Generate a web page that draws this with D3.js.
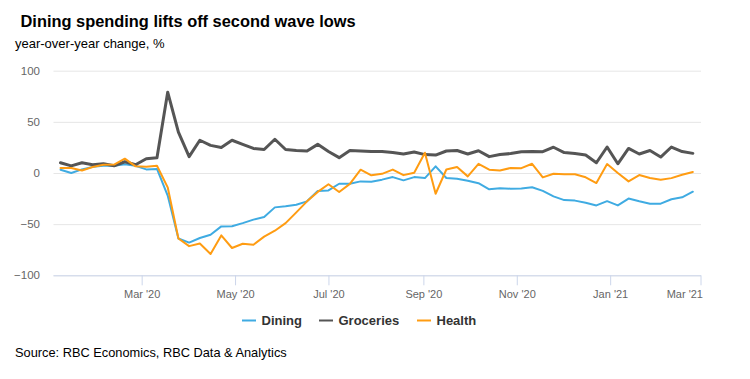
<!DOCTYPE html>
<html>
<head>
<meta charset="utf-8">
<script src="https://cdn.jsdelivr.net/npm/d3@7"></script>
<style>
  html, body { margin: 0; padding: 0; background: #fff; }
  svg { display: block; font-family: "Liberation Sans", Arial, sans-serif; }
</style>
</head>
<body>
<svg id="chart" width="750" height="379"></svg>
<script>
// ---- data ----
const dates = [
  "2020-01-08","2020-01-15","2020-01-22","2020-01-29","2020-02-05","2020-02-12","2020-02-19","2020-02-26",
  "2020-03-04","2020-03-11","2020-03-18","2020-03-25","2020-04-01","2020-04-08","2020-04-15","2020-04-22",
  "2020-04-29","2020-05-06","2020-05-13","2020-05-20","2020-05-27","2020-06-03","2020-06-10","2020-06-17",
  "2020-06-24","2020-07-01","2020-07-08","2020-07-15","2020-07-22","2020-07-29","2020-08-05","2020-08-12",
  "2020-08-19","2020-08-26","2020-09-02","2020-09-09","2020-09-16","2020-09-23","2020-09-30","2020-10-07",
  "2020-10-14","2020-10-21","2020-10-28","2020-11-04","2020-11-11","2020-11-18","2020-11-25","2020-12-02",
  "2020-12-09","2020-12-16","2020-12-23","2020-12-30","2021-01-06","2021-01-13","2021-01-20","2021-01-27",
  "2021-02-03","2021-02-10","2021-02-17","2021-02-24"
];
const dining = [
  3.2, 0, 3.5, 6, 7, 7, 8.5, 7, 3.5, 4,
  -22, -64, -68, -63.5, -60.3, -52.2, -52, -49, -45.6, -43,
  -33.6, -32.6, -31, -27.7, -17.5, -17, -10.5, -10.5, -8.2, -8.5,
  -6.5, -4, -7.2, -4, -5, 6.5, -4.9, -5.6, -7.5, -10,
  -16, -15, -15.3, -15.2, -14, -17.5, -22.8, -26.5, -27, -29,
  -31.7, -27.5, -31.7, -25, -27.7, -30, -30, -25.7, -23.8, -18.3
];
const groceries = [
  10, 7, 10, 8, 9, 7, 11, 8, 14, 15,
  79, 40, 16, 32, 27, 25, 32, 28, 24, 23,
  33, 23, 22, 21.5, 28, 21, 15, 22, 21.5, 21,
  21, 20, 18.6, 20.5, 18, 17.5, 21.5, 22, 18.6, 21.8,
  16, 18, 19, 20.8, 21, 20.8, 25.2, 20, 19, 17.6,
  10, 25.4, 9, 24, 18.6, 22, 15.6, 25.4, 21, 19.2
];
const health = [
  4.9, 4.9, 2.5, 5.9, 8, 8.3, 14, 6.5, 6, 7.1,
  -14, -64, -71.5, -69, -79.2, -61, -73.3, -69.2, -70.1, -62.2,
  -56.4, -49, -38.5, -27.7, -18.5, -11, -18.6, -10.6, 3.2, -2.3,
  -0.8, 3.3, -2.1, 0.3, 19.8, -20.3, 3.4, 5.9, -3.3, 9,
  3.2, 2.5, 4.9, 4.7, 9, -4.3, -0.8, -1.2, -1.2, -4.2,
  -9.8, 8.8, 0, -8.2, -2, -4.9, -6.5, -5, -1.7, 1
];
const seriesNames = ["Dining", "Groceries", "Health"];
const seriesColors = ["#3fabe2", "#555555", "#ff9c12"];
const seriesWidths = [2, 3, 2];
const yTicks = [-100, -50, 0, 50, 100];
const xTickDates = ["2020-03-01","2020-05-01","2020-07-01","2020-09-01","2020-11-01","2021-01-01","2021-03-01"];

const title = "Dining spending lifts off second wave lows";
const subtitle = "year-over-year change, %";
const source = "Source: RBC Economics, RBC Data & Analytics";

// ---- layout ----
const svg = d3.select("#chart");
const parse = d3.timeParse("%Y-%m-%d");
const L = 53.5, R = 700.5, T = 70.7, B = 275.3;

const x = d3.scaleTime()
  .domain([new Date(2020, 0, 3, 10), parse("2021-03-01")])
  .range([L, R]);
const y = d3.scaleLinear().domain([-100, 100]).range([B, T]);

// title / subtitle
svg.append("text").attr("x", 20.5).attr("y", 27)
  .attr("font-size", 16.4).attr("font-weight", "bold").attr("fill", "#000")
  .text(title);
svg.append("text").attr("x", 15).attr("y", 48)
  .attr("font-size", 13).attr("fill", "#000")
  .text(subtitle);

// gridlines
const grid = svg.append("g").attr("transform", `translate(${L},0)`)
  .call(d3.axisLeft(y).tickValues(yTicks).tickSize(-(R - L + 0.5)).tickFormat(""));
grid.select(".domain").remove();
grid.selectAll("line").attr("stroke", "#e6e6e6").attr("stroke-width", 1);

// y labels
const yAx = svg.append("g").attr("transform", `translate(40,0)`)
  .call(d3.axisLeft(y).tickValues(yTicks).tickSize(0).tickPadding(0)
    .tickFormat(d => d < 0 ? "\u2212" + Math.abs(d) : d));
yAx.select(".domain").remove();
yAx.selectAll("text").attr("font-size", 11.5).attr("fill", "#666")
  .attr("font-family", "\"Liberation Sans\", Arial, sans-serif").attr("text-anchor", "end");

// x axis
const xAx = svg.append("g").attr("transform", `translate(0,${B})`)
  .call(d3.axisBottom(x).tickValues(xTickDates.map(parse)).tickSize(10).tickPadding(5)
    .tickFormat(d3.timeFormat("%b '%y")));
xAx.select(".domain").attr("stroke", "#ccd6eb").attr("d", `M${L},0.5H${R + 0.5}`);
xAx.selectAll("line").attr("stroke", "#ccd6eb");
xAx.selectAll("text").attr("font-size", 11).attr("fill", "#666")
  .attr("font-family", "\"Liberation Sans Narrow\", \"Liberation Sans\", Arial, sans-serif");
xAx.selectAll(".tick").filter((d, i, n) => i === n.length - 1)
  .select("text").attr("text-anchor", "end").attr("dx", 2);

// lines
const allSeries = [dining, groceries, health];
const line = d3.line().x((d, i) => x(parse(dates[i]))).y(d => y(d));
allSeries.forEach((vals, s) => {
  svg.append("path").datum(vals)
    .attr("d", line)
    .attr("fill", "none")
    .attr("stroke", seriesColors[s])
    .attr("stroke-width", seriesWidths[s])
    .attr("stroke-linejoin", "round")
    .attr("stroke-linecap", "round");
});

// legend
const legendX = [242, 319, 417];
const leg = svg.append("g");
seriesNames.forEach((name, i) => {
  const g = leg.append("g").attr("transform", `translate(${legendX[i]},320.5)`);
  g.append("line").attr("x1", 0).attr("x2", 14).attr("y1", 0).attr("y2", 0)
    .attr("stroke", seriesColors[i]).attr("stroke-width", 2);
  g.append("text").attr("x", 19.5).attr("y", 4.5)
    .attr("font-size", 13).attr("font-weight", "bold").attr("fill", "#333")
    .text(name);
});

// source
svg.append("text").attr("x", 15).attr("y", 357)
  .attr("font-size", 12.8).attr("fill", "#000")
  .text(source);
</script>
</body>
</html>
